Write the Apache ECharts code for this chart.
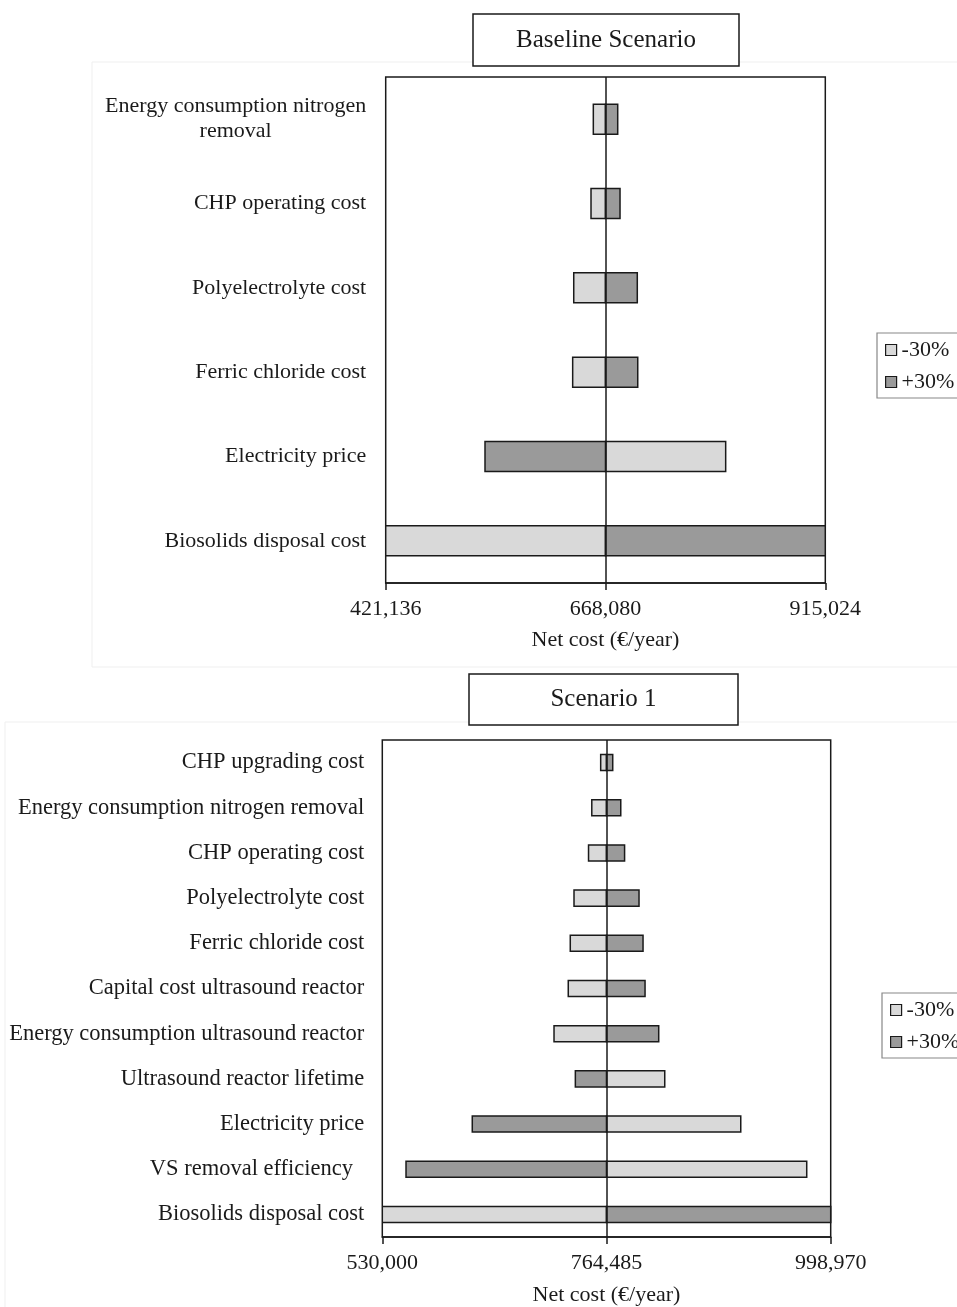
<!DOCTYPE html>
<html>
<head>
<meta charset="utf-8">
<script src="https://cdn.jsdelivr.net/npm/echarts@6/dist/echarts.min.js"></script>
<style>
html,body{margin:0;padding:0;background:#fff;}
#chart{width:957px;height:1307px;}
</style>
</head>
<body>
<div id="chart"></div>
<script>
// ---------- DATA ----------
const titleTop = 'Baseline Scenario';
const titleBottom = 'Scenario 1';
const axisName = 'Net cost (€/year)';

const baseTop = 668080;
const ticksTop = [421136, 668080, 915024];
const catsTop = [
  'Energy consumption nitrogen\nremoval',
  'CHP operating cost',
  'Polyelectrolyte cost',
  'Ferric chloride cost',
  'Electricity price',
  'Biosolids disposal cost'
];
const minusTop = [654400, 651800, 632400, 631200, 803100, 421136];
const plusTop  = [681800, 684400, 703800, 704300, 532700, 915024];

const baseBot = 764485;
const ticksBot = [530000, 764485, 998970];
const catsBot = [
  'CHP upgrading cost',
  'Energy consumption nitrogen removal',
  'CHP operating cost',
  'Polyelectrolyte cost',
  'Ferric chloride cost',
  'Capital cost ultrasound reactor',
  'Energy consumption ultrasound reactor',
  'Ultrasound reactor lifetime',
  'Electricity price',
  'VS removal efficiency  ',
  'Biosolids disposal cost'
];
const minusBot = [758400, 749100, 745700, 730500, 726600, 724500, 709600, 825400, 904900, 973900, 530000];
const plusBot  = [771000, 779400, 783400, 798500, 802700, 804800, 819100, 731900, 624100, 554800, 998970];

const seriesNames = ['-30%', '+30%'];

// ---------- STYLE ----------
const FONT = 'Liberation Serif';
const INK = '#1a1a1a';
const LIGHT = '#d9d9d9';
const DARK = '#9a9a9a';
const FS = 22;

function makeRender(base) {
  return function (params, api) {
    const cat = api.value(1);
    const v = api.value(0);
    const p0 = api.coord([base, cat]);
    const p1 = api.coord([v, cat]);
    const h = api.size([0, 1])[1] * 0.355;
    return {
      type: 'rect',
      shape: { x: Math.min(p0[0], p1[0]), y: p0[1] - h / 2, width: Math.abs(p1[0] - p0[0]), height: h },
      style: api.style()
    };
  };
}

function barSeries(name, vals, base, idx, color, withLine) {
  const s = {
    type: 'custom',
    name: name,
    xAxisIndex: idx, yAxisIndex: idx,
    clip: true,
    renderItem: makeRender(base),
    encode: { x: 0, y: 1 },
    data: vals.map((v, i) => [v, i]),
    itemStyle: { color: color, borderColor: INK, borderWidth: 1.5 },
    z: 3
  };
  if (withLine) {
    s.markLine = {
      silent: true, symbol: 'none', label: { show: false },
      lineStyle: { color: INK, width: 1.5, type: 'solid' },
      data: [{ xAxis: base }], z: 5
    };
  }
  return s;
}

function xAxisDef(idx, ticks, nameGap) {
  return {
    type: 'value', gridIndex: idx,
    min: ticks[0], max: ticks[ticks.length - 1],
    name: axisName, nameLocation: 'middle', nameGap: nameGap,
    nameTextStyle: { fontFamily: FONT, fontSize: FS, color: INK },
    axisLine: { show: true, lineStyle: { color: INK, width: 1.5 } },
    axisTick: { show: true, customValues: ticks, length: 7, lineStyle: { color: INK, width: 1.5 } },
    axisLabel: {
      customValues: ticks, margin: 15,
      fontFamily: FONT, fontSize: FS, color: INK,
      formatter: v => Math.round(v).toLocaleString('en-US')
    },
    splitLine: { show: false }
  };
}

function yAxisDef(idx, cats, margin, fs) {
  return {
    type: 'category', gridIndex: idx, data: cats, inverse: true,
    axisLine: { show: false }, axisTick: { show: false },
    axisLabel: {
      margin: margin, fontFamily: FONT, fontSize: fs, color: INK, lineHeight: 25,
      formatter: v => v.indexOf('\n') >= 0 ? v.split('\n').map(s => '{c|' + s + '}').join('\n') : v,
      rich: { c: { align: 'center', fontFamily: FONT, fontSize: fs, color: INK, lineHeight: 25 } }
    },
    splitLine: { show: false }
  };
}

function legendDef(left, top) {
  return {
    orient: 'vertical', left: left, top: top,
    padding: [6, 24, 5, 8],
    itemGap: 10, itemWidth: 11, itemHeight: 11, icon: 'rect',
    borderColor: '#888', borderWidth: 1.2,
    textStyle: { fontFamily: FONT, fontSize: FS, color: INK },
    selectedMode: false,
    data: [
      { name: seriesNames[0], itemStyle: { color: LIGHT, borderColor: INK, borderWidth: 1.2 } },
      { name: seriesNames[1], itemStyle: { color: DARK, borderColor: INK, borderWidth: 1.2 } }
    ]
  };
}

function titleBox(x, y, w, h, text) {
  return {
    type: 'group', children: [
      { type: 'rect', shape: { x: x, y: y, width: w, height: h },
        style: { fill: '#fff', stroke: INK, lineWidth: 1.5 }, z: 10 },
      { type: 'text', x: x + w / 2, y: y + h / 2, z: 11,
        style: { text: text, fontFamily: FONT, fontSize: 25, fill: INK, align: 'center', verticalAlign: 'middle' } }
    ]
  };
}

const chart = echarts.init(document.getElementById('chart'), null, { renderer: 'canvas' });
chart.setOption({
  backgroundColor: '#fff',
  animation: false,
  graphic: [
    { type: 'rect', shape: { x: 92, y: 62, width: 880, height: 605 }, style: { fill: 'none', stroke: '#efefef', lineWidth: 1 }, z: 0 },
    { type: 'rect', shape: { x: 5, y: 722, width: 970, height: 600 }, style: { fill: 'none', stroke: '#efefef', lineWidth: 1 }, z: 0 },
    titleBox(473, 14, 266, 52, titleTop),
    titleBox(469, 674, 269, 51, titleBottom)
  ],
  legend: [legendDef(877, 333), legendDef(882, 993)],
  grid: [
    { left: 385.7, right: 131.7, top: 77, height: 506, show: true, borderColor: INK, borderWidth: 1.5, backgroundColor: 'transparent' },
    { left: 382.3, right: 126.3, top: 740, height: 499.3, show: true, borderColor: INK, borderWidth: 1.5, backgroundColor: 'transparent' }
  ],
  xAxis: [xAxisDef(0, ticksTop, 46), xAxisDef(1, ticksBot, 47)],
  yAxis: [yAxisDef(0, catsTop, 19.5, 22), yAxisDef(1, catsBot, 18, 22.5)],
  series: [
    barSeries(seriesNames[0], minusTop, baseTop, 0, LIGHT, true),
    barSeries(seriesNames[1], plusTop, baseTop, 0, DARK, false),
    barSeries(seriesNames[0], minusBot, baseBot, 1, LIGHT, true),
    barSeries(seriesNames[1], plusBot, baseBot, 1, DARK, false)
  ]
});
</script>
</body>
</html>
